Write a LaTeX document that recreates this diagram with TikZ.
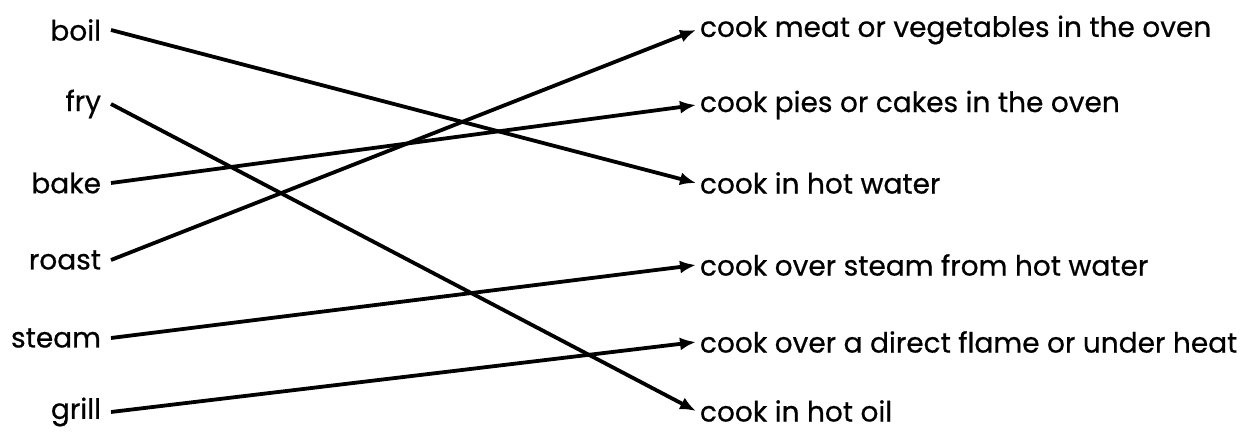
\documentclass[tikz,border=0pt]{standalone}
\usepackage{fontspec}
\setmainfont{Poppins}[FakeBold=0.6]
\usetikzlibrary{arrows.meta}

\tikzset{
  word/.style={anchor=east, inner sep=0pt, outer sep=5pt, font=\fontsize{14}{16}\selectfont},
  meaning/.style={anchor=west, inner sep=0pt, outer sep=2pt, font=\fontsize{14}{16}\selectfont},
  link/.style={line width=1.9pt, -{Latex[length=8pt,width=6.5pt]}}
}

\begin{document}
\begin{tikzpicture}[x=0.5pt,y=-0.5pt]
\useasboundingbox (0,0) rectangle (1252,432);

% words on the left
\node[word] (boil)  at (111,30)  {boil};
\node[word] (fry)   at (111,104) {fry};
\node[word] (bake)  at (111,183) {bake};
\node[word] (roast) at (111,260) {roast};
\node[word] (steam) at (111,338) {steam};
\node[word] (grill) at (111,412) {grill};

% meanings on the right
\node[meaning] (oven)  at (696,30)  {cook meat or vegetables in the oven};
\node[meaning] (pies)  at (696,105) {cook pies or cakes in the oven};
\node[meaning] (water) at (696,183) {cook in hot water};
\node[meaning] (over)  at (696,265) {cook over steam from hot water};
\node[meaning] (flame) at (696,342) {cook over a direct flame or under heat};
\node[meaning] (oil)   at (696,411) {cook in hot oil};

\draw[link] (boil.east) -- (water.west);
\draw[link] (fry.east) -- (oil.west);
\draw[link] (bake.east) -- (pies.west);
\draw[link] (roast.east) -- (oven.west);
\draw[link] (steam.east) -- (over.west);
\draw[link] (grill.east) -- (flame.west);

\end{tikzpicture}
\end{document}
